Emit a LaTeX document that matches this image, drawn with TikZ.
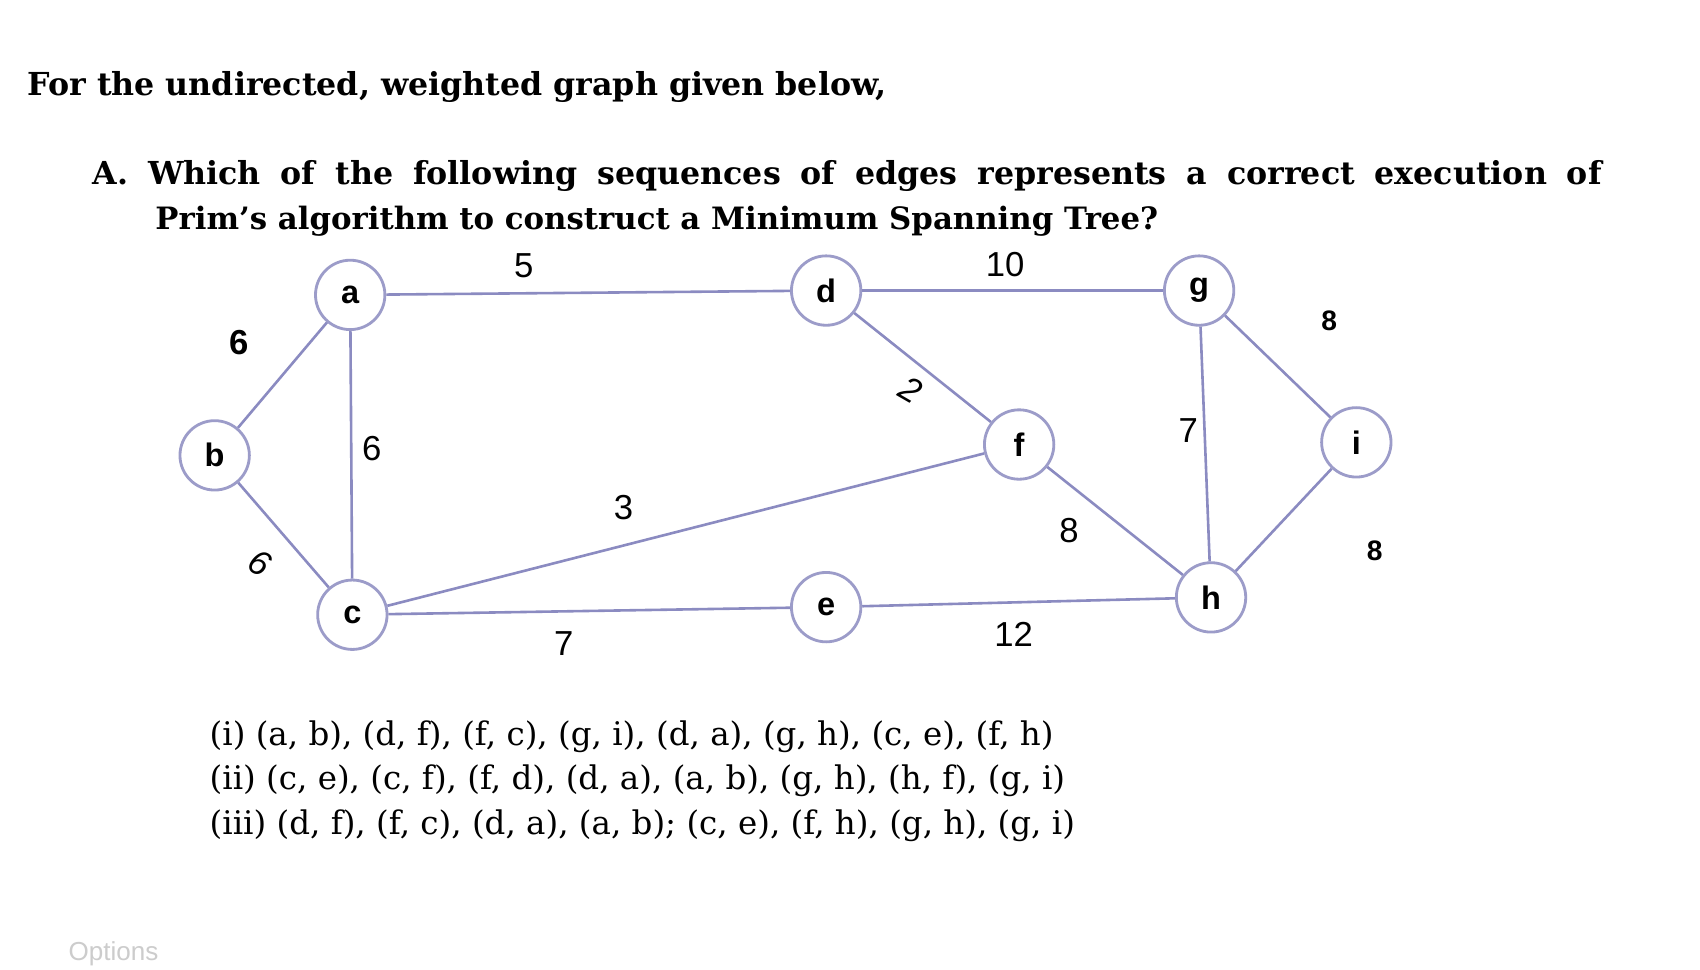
\documentclass[tikz,border=0pt]{standalone}
\usepackage{fontspec}
\setmainfont{DejaVu Serif}
\setsansfont{Liberation Sans}
\begin{document}
\begin{tikzpicture}[x=0.5pt,y=-0.5pt,
  vert/.style={circle,draw=gray!70!blue!60,line width=1.3pt,minimum size=32pt,inner sep=0pt,font=\sffamily\fontsize{15}{15}\selectfont\bfseries,fill=white},
  edge/.style={draw=blue!30!gray!70,line width=1.2pt},
  wt/.style={font=\sffamily\fontsize{16}{16}\selectfont},
  q/.style={font=\fontsize{14.6}{18}\selectfont\bfseries,anchor=west,inner sep=0pt},
  opt/.style={font=\fontsize{15}{18}\selectfont,anchor=west,inner sep=0pt}]
\useasboundingbox (0,0) rectangle (1568,894);
\fill[white] (0,0) rectangle (1568,894);
\node[q] (t1) at (25,80) {For the undirected, weighted graph given below,};
\node[q] (t2) at (85,162) {\makebox[696pt][s]{A.\ Which of the following sequences of edges represents a correct execution of}};
\node[q,font=\fontsize{14.2}{18}\selectfont\bfseries] (t3) at (143,204) {Prim's algorithm to construct a Minimum Spanning Tree?};
\node[vert] (a) at (323,272) {a};
\node[vert] (b) at (198,420) {b};
\node[vert] (c) at (325,567) {c};
\node[vert] (d) at (762,268) {d};
\node[vert] (e) at (762,560) {e};
\node[vert] (f) at (940,410) {f};
\node[vert] (g) at (1106,268) {g};
\node[vert] (h) at (1117,551) {h};
\node[vert] (i) at (1251,408) {i};
\draw[edge] (a) -- (d);
\draw[edge] (d) -- (g);
\draw[edge] (a) -- (b);
\draw[edge] (a) -- (c);
\draw[edge] (b) -- (c);
\draw[edge] (c) -- (f);
\draw[edge] (d) -- (f);
\draw[edge] (c) -- (e);
\draw[edge] (e) -- (h);
\draw[edge] (f) -- (h);
\draw[edge] (g) -- (h);
\draw[edge] (g) -- (i);
\draw[edge] (h) -- (i);
\node[wt] (w1) at (483,245) {5};
\node[wt] (w2) at (927,244) {10};
\node[wt,font=\sffamily\bfseries\fontsize{16}{16}\selectfont] (w3) at (221,316) {6};
\node[wt] (w4) at (343,414) {6};
\node[wt,rotate=-30,font=\sffamily\itshape\fontsize{16}{16}\selectfont] (w5) at (240,519) {6};
\node[wt] (w6) at (575,468) {3};
\node[wt,rotate=-30,font=\sffamily\itshape\fontsize{16}{16}\selectfont] (w7) at (840,360) {2};
\node[wt] (w8) at (520,594) {7};
\node[wt] (w9) at (935,585) {12};
\node[wt] (w10) at (986,489) {8};
\node[wt] (w11) at (1096,397) {7};
\node[wt,font=\sffamily\bfseries\fontsize{13}{13}\selectfont] (w12) at (1226,296) {8};
\node[wt,font=\sffamily\bfseries\fontsize{13}{13}\selectfont] (w13) at (1268,508) {8};
\node[opt] (o1) at (193,680) {(i) (a, b), (d, f), (f, c), (g, i), (d, a), (g, h), (c, e), (f, h)};
\node[opt] (o2) at (193,720) {(ii) (c, e), (c, f), (f, d), (d, a), (a, b), (g, h), (h, f), (g, i)};
\node[opt] (o3) at (193,762) {(iii) (d, f), (f, c), (d, a), (a, b); (c, e), (f, h), (g, h), (g, i)};
\node[opt,text=gray!40,font=\sffamily\fontsize{12}{12}\selectfont] (op) at (63,880) {Options};
\end{tikzpicture}
\end{document}
